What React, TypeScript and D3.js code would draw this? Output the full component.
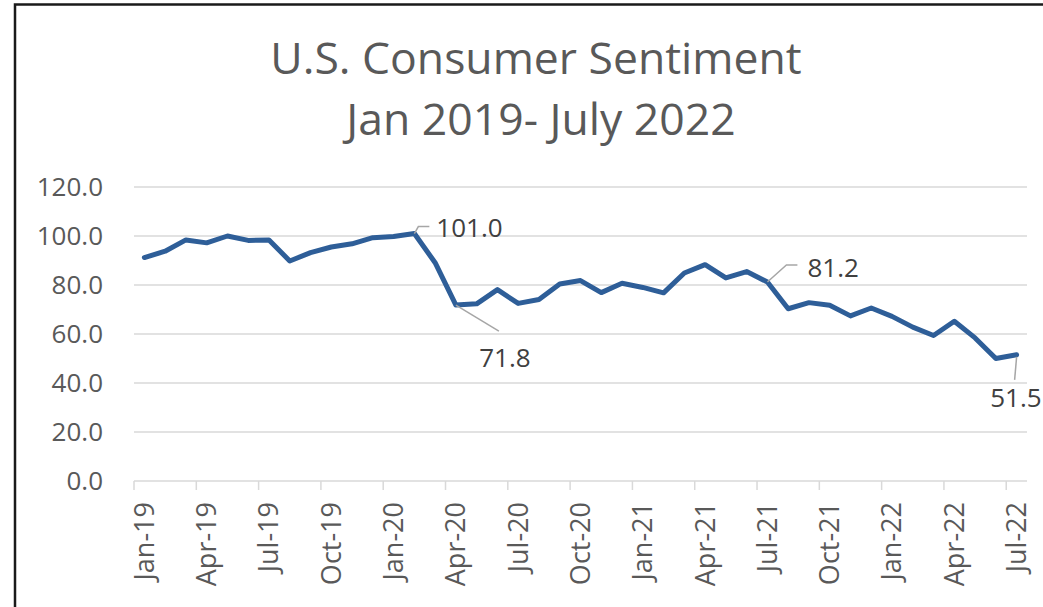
import React from "react";
import * as d3 from "d3";

const months: string[] = [
  "Jan-19","Feb-19","Mar-19","Apr-19","May-19","Jun-19","Jul-19","Aug-19","Sep-19","Oct-19","Nov-19","Dec-19",
  "Jan-20","Feb-20","Mar-20","Apr-20","May-20","Jun-20","Jul-20","Aug-20","Sep-20","Oct-20","Nov-20","Dec-20",
  "Jan-21","Feb-21","Mar-21","Apr-21","May-21","Jun-21","Jul-21","Aug-21","Sep-21","Oct-21","Nov-21","Dec-21",
  "Jan-22","Feb-22","Mar-22","Apr-22","May-22","Jun-22","Jul-22",
];
const sentiment: number[] = [
  91.2, 93.8, 98.4, 97.2, 100.0, 98.2, 98.4, 89.8, 93.2, 95.5, 96.8, 99.3,
  99.8, 101.0, 89.1, 71.8, 72.3, 78.1, 72.5, 74.1, 80.4, 81.8, 76.9, 80.7,
  79.0, 76.8, 84.9, 88.3, 82.9, 85.5, 81.2, 70.3, 72.8, 71.7, 67.4, 70.6,
  67.2, 62.8, 59.4, 65.2, 58.4, 50.0, 51.5,
];
const tickMonths: string[] = [
  "Jan-19","Apr-19","Jul-19","Oct-19","Jan-20","Apr-20","Jul-20","Oct-20",
  "Jan-21","Apr-21","Jul-21","Oct-21","Jan-22","Apr-22","Jul-22",
];
const yTicks: number[] = [0, 20, 40, 60, 80, 100, 120];
const labelledMonths: string[] = ["Feb-20", "Apr-20", "Jul-21", "Jul-22"];

const W = 1043;
const H = 607;
const FONT = "'Open Sans', 'Noto Sans', sans-serif";
const TEXT = "#595959";

export default function App() {
  const x = d3.scaleBand<string>().domain(months).range([134, 1027]).paddingInner(0).paddingOuter(0);
  const y = d3.scaleLinear().domain([0, 120]).range([481, 187]);
  const cx = (m: string) => (x(m) as number) + x.bandwidth() / 2;

  const line = d3
    .line<number>()
    .x((_, i) => cx(months[i]))
    .y((d) => y(d));

  const fmt = d3.format(".1f");

  const leaders: Record<string, { path: (px: number, py: number) => string; tx: number; ty: number; anchor: string }> = {
    "Feb-20": {
      path: (px, py) => `M${px},${py} L${px + 4},${py - 7} L${px + 15},${py - 7}`,
      tx: 22, ty: 3, anchor: "start",
    },
    "Apr-20": {
      path: (px, py) => `M${px},${py} L${px + 43},${py + 26}`,
      tx: 49, ty: 62, anchor: "middle",
    },
    "Jul-21": {
      path: (px, py) => `M${px},${py} L${px + 19},${py - 17} L${px + 30},${py - 17}`,
      tx: 40, ty: -5, anchor: "start",
    },
    "Jul-22": {
      path: (px, py) => `M${px},${py + 2} L${px - 2},${py + 25}`,
      tx: 25, ty: 52, anchor: "end",
    },
  };

  return (
    <div style={{ position: "absolute", left: 0, top: 0, width: W, height: H, overflow: "hidden", background: "#fff" }}>
      <svg width={W} height={H} style={{ display: "block" }}>
        <rect x={0} y={0} width={W} height={H} fill="#fff" />
        <rect x={15} y={4.5} width={W + 20} height={H + 20} fill="none" stroke="#1a1a1a" strokeWidth={2.5} />

        <text x={536} y={74} textAnchor="middle" fontFamily={FONT} fontSize={44.5} fill={TEXT}>
          U.S. Consumer Sentiment
        </text>
        <text x={541} y={135} textAnchor="middle" fontFamily={FONT} fontSize={44.5} fill={TEXT}>
          Jan 2019- July 2022
        </text>

        {yTicks.map((t) => (
          <g key={t}>
            {t > 0 && (
              <line x1={134} x2={1027} y1={y(t)} y2={y(t)} stroke="#d9d9d9" strokeWidth={1.5} />
            )}
            <text x={103} y={y(t)} dy="0.35em" textAnchor="end" fontFamily={FONT} fontSize={26} fill={TEXT}>
              {fmt(t)}
            </text>
          </g>
        ))}

        <line x1={134} x2={1027} y1={y(0)} y2={y(0)} stroke="#d9d9d9" strokeWidth={1.5} />
        {tickMonths.map((m) => (
          <g key={m}>
            <line x1={x(m) as number} x2={x(m) as number} y1={y(0)} y2={y(0) + 9} stroke="#d9d9d9" strokeWidth={1.5} />
            <text
              transform={`translate(${cx(m)},${502}) rotate(-90)`}
              textAnchor="end"
              dy="0.35em"
              fontFamily={FONT}
              fontSize={27}
              fill={TEXT}
            >
              {m}
            </text>
          </g>
        ))}

        <path d={line(sentiment) || ""} fill="none" stroke="#2e5e98" strokeWidth={5} strokeLinejoin="round" strokeLinecap="round" />

        {labelledMonths.map((m) => {
          const i = months.indexOf(m);
          const px = cx(m);
          const py = y(sentiment[i]);
          const L = leaders[m];
          return (
            <g key={m}>
              <path d={L.path(px, py)} fill="none" stroke="#a6a6a6" strokeWidth={1.5} />
              <text x={px + L.tx} y={py + L.ty} textAnchor={L.anchor as any} fontFamily={FONT} fontSize={26} fill="#404040">
                {fmt(sentiment[i])}
              </text>
            </g>
          );
        })}
      </svg>
    </div>
  );
}
